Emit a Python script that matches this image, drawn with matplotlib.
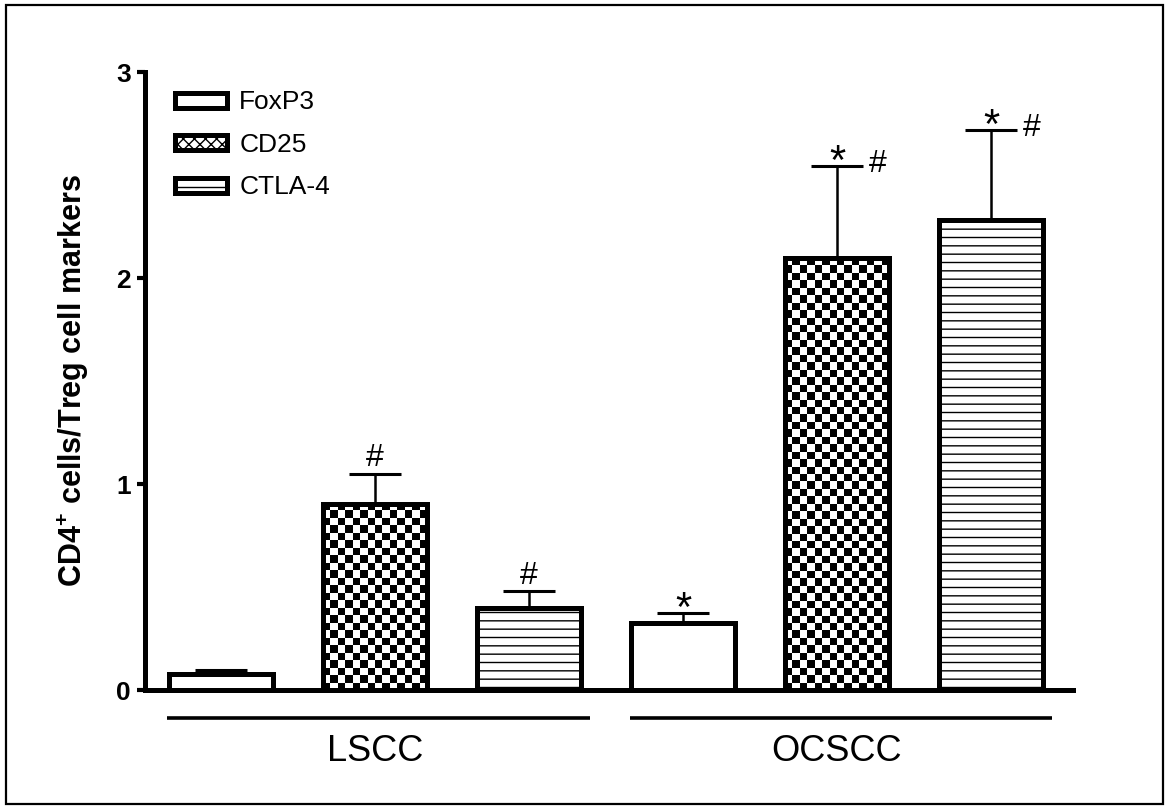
import numpy as np
import matplotlib
matplotlib.use("Agg")
import matplotlib.pyplot as plt
import matplotlib.patches as mpatches

plt.rcParams['font.family'] = ['Liberation Sans', 'DejaVu Sans']
plt.rcParams['mathtext.default'] = 'regular'
plt.rcParams['hatch.linewidth'] = 1.0

# data
groups = ["LSCC", "OCSCC"]
markers = ["FoxP3", "CD25", "CTLA-4"]
foxp3_vals = [0.08, 0.325]
foxp3_err = [0.015, 0.05]
cd25_vals = [0.905, 2.095]
cd25_err = [0.145, 0.45]
ctla4_vals = [0.40, 2.28]
ctla4_err = [0.08, 0.44]
# significance marks per bar (group, marker)
sig_marks = [["", "#", "#"], ["*", "*#", "*#"]]

values = [foxp3_vals, cd25_vals, ctla4_vals]
errors = [foxp3_err, cd25_err, ctla4_err]

fig = plt.figure(figsize=(11.7, 8.1), dpi=100)
ax = fig.add_axes([145 / 1170, 120 / 810, 928 / 1170, 618 / 810])

bar_w = 0.675
edge_lw = 3.6
styles = [dict(facecolor='white', hatch=None),
          dict(facecolor='none', hatch=None),
          dict(facecolor='white', hatch='--')]

ax.set_xlim(-0.4935, 5.532)
ax.set_ylim(0, 3)

for m, name in enumerate(markers):
    xs = [g * 3 + m for g in range(len(groups))]
    bars = ax.bar(xs, values[m], width=bar_w, edgecolor='black', linewidth=edge_lw,
                  zorder=3, **styles[m])
    ax.errorbar(xs, values[m], yerr=[np.zeros(len(xs)), errors[m]], fmt='none',
                ecolor='black', elinewidth=1.8, capsize=19, capthick=2.2, zorder=2)
    if name == "CD25":
        # checkerboard fill, clipped to each bar
        for b in bars:
            x0, y0 = b.get_x(), b.get_y()
            x1, y1 = x0 + b.get_width(), y0 + b.get_height()
            p0 = ax.transData.transform((x0, y0))
            p1 = ax.transData.transform((x1, y1))
            nx = max(1, int(round(abs(p1[0] - p0[0]) / 7.5)))
            ny = max(1, int(round(abs(p1[1] - p0[1]) / 7.5)))
            board = (np.add.outer(np.arange(ny), np.arange(nx)) % 2).astype(float)
            im = ax.imshow(board, cmap='gray', extent=(x0, x1, y0, y1), origin='lower',
                           interpolation='nearest', aspect='auto', zorder=1.5)
            im.set_clip_path(b)

ax.set_xlim(-0.4935, 5.532)
ax.set_ylim(0, 3)

# significance marks
for g in range(len(groups)):
    for m in range(len(markers)):
        x = g * 3 + m
        top = values[m][g] + errors[m][g]
        s = sig_marks[g][m]
        if "*" in s:
            ax.annotate("*", (x, top), xytext=(0, 2), textcoords='offset points',
                        ha='center', va='center', fontsize=30)
        if s == "#":
            ax.annotate("#", (x, top), xytext=(0, 11), textcoords='offset points',
                        ha='center', va='center', fontsize=23)
        elif s == "*#":
            ax.annotate("#", (x, top), xytext=(29, 1), textcoords='offset points',
                        ha='center', va='center', fontsize=23)

# group lines and labels
for g, name in enumerate(groups):
    start = g * 3 - bar_w / 2 - 0.01
    end = g * 3 + 2 + bar_w / 2 + 0.06
    ax.plot([start, end], [-0.136, -0.136], color='black', lw=2.6, clip_on=False,
            solid_capstyle='butt')
    ax.text((g * 3 + 1), -0.30, name, ha='center', va='center', fontsize=26)

ax.spines['top'].set_visible(False)
ax.spines['right'].set_visible(False)
for sp in ['left', 'bottom']:
    ax.spines[sp].set_linewidth(3.6)
    ax.spines[sp].set_capstyle('projecting')
ax.set_xticks([])
ax.set_yticks([0, 1, 2, 3])
ax.tick_params(axis='y', length=6, width=3.0, pad=4, labelsize=19)
for lab in ax.get_yticklabels():
    lab.set_fontweight('bold')

ax.set_ylabel("CD4$^{+}$ cells/Treg cell markers", fontsize=22, fontweight='bold')
ax.yaxis.set_label_coords(-0.058, 0.5)

handles = [mpatches.Patch(facecolor='white', edgecolor='black', linewidth=edge_lw, label=markers[0]),
           mpatches.Patch(facecolor='white', edgecolor='black', linewidth=edge_lw, hatch='xxx',
                          label=markers[1]),
           mpatches.Patch(facecolor='white', edgecolor='black', linewidth=edge_lw, hatch='--',
                          label=markers[2])]
ax.legend(handles=handles, loc='upper left', bbox_to_anchor=(0.012, 1.0), frameon=False,
          fontsize=19, handlelength=2.0, handleheight=0.5, handletextpad=0.45,
          labelspacing=0.7, borderaxespad=0.3)

# outer frame
fig.patches.append(mpatches.Rectangle((6 / 1170, 6 / 810), 1157 / 1170, 799 / 810,
                                      transform=fig.transFigure, fill=False,
                                      edgecolor='black', linewidth=1.6))

fig.savefig("out.png", dpi=100)
